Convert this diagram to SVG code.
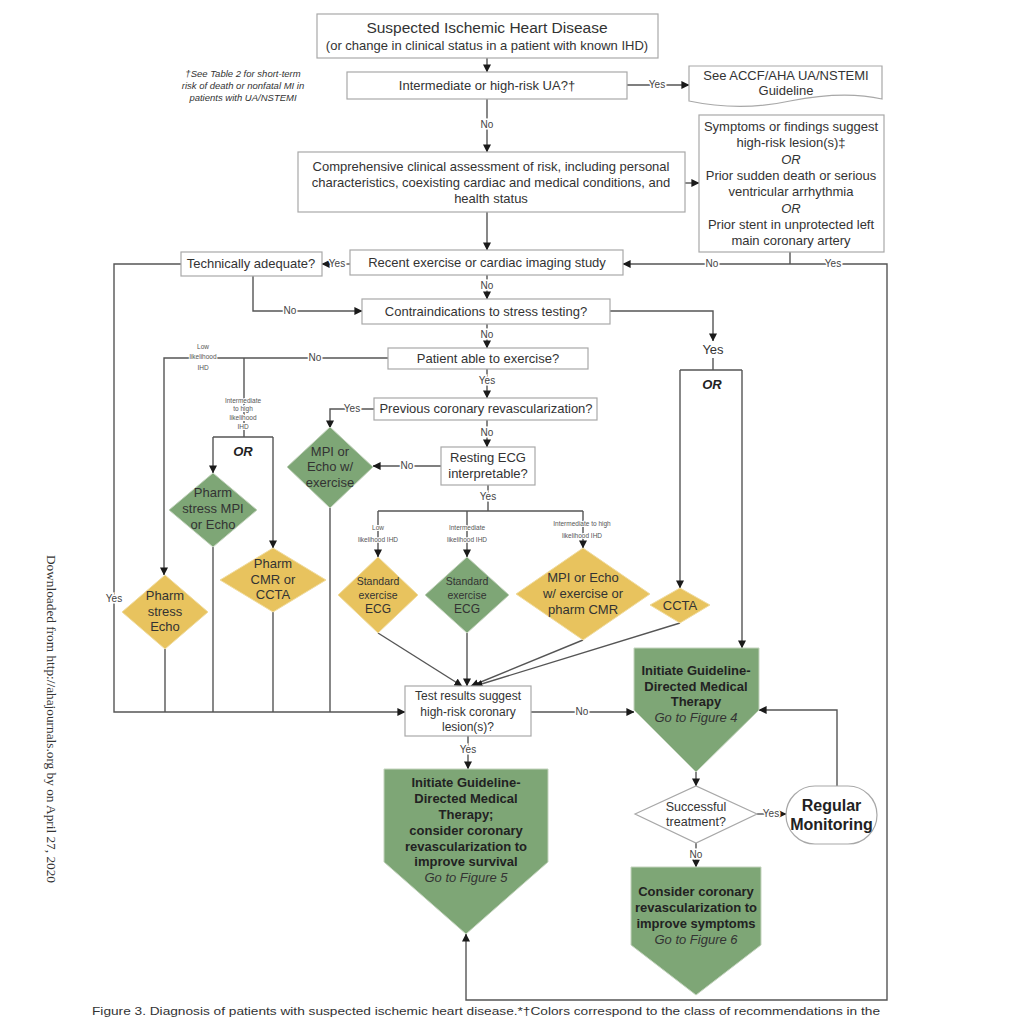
<svg xmlns="http://www.w3.org/2000/svg" width="1030" height="1018" viewBox="0 0 1030 1018">
<defs>
<marker id="arr" viewBox="0 0 10 10" refX="9.5" refY="5" markerWidth="8" markerHeight="8" markerUnits="userSpaceOnUse" orient="auto"><path d="M0,0 L10,5 L0,10 z" fill="#1a1a1a"/></marker>
<style>
.t{font-family:"Liberation Sans",Arial,sans-serif;fill:#333;text-anchor:middle;font-size:13px}
.box{fill:#fff;stroke:#a8a8a8;stroke-width:1.2}
.c{fill:none;stroke:#555;stroke-width:1.4}
.a{marker-end:url(#arr)}
.lbl{font-family:"Liberation Sans",Arial,sans-serif;fill:#444;text-anchor:middle;font-size:10px;stroke:#fff;stroke-width:3;paint-order:stroke}
.tiny{font-family:"Liberation Sans",Arial,sans-serif;fill:#555;text-anchor:middle;font-size:6.5px;stroke:#fff;stroke-width:2;paint-order:stroke}
.g{fill:#7ea676;stroke:#c3d3bd;stroke-width:1}
.y{fill:#e8c35e;stroke:#f0dca0;stroke-width:1}
.b{font-weight:bold;fill:#222}
.i{font-style:italic}
</style>
</defs>
<rect width="1030" height="1018" fill="#fff"/>

<g id="connectors">
<path class="c a" d="M487,58 V72"/>
<path class="c a" d="M627,85 H689"/>
<text class="lbl" x="657" y="88">Yes</text>
<path class="c a" d="M487,99 V152"/>
<text class="lbl" x="487" y="128">No</text>
<path class="c a" d="M685,183 H699"/>
<path class="c a" d="M487,212 V250"/>
<path class="c" d="M790,252 V264"/>
<path class="c a" d="M790,264 H623"/>
<text class="lbl" x="712" y="267">No</text>
<path class="c a" d="M790,264 H887 V1000 H466 V934"/>
<text class="lbl" x="833" y="267">Yes</text>
<path class="c a" d="M350,264 H322"/>
<text class="lbl" x="337" y="267">Yes</text>
<path class="c a" d="M181,264 H114 V712 H405"/>
<text class="lbl" x="114" y="602">Yes</text>
<path class="c a" d="M253,276 V311 H362"/>
<text class="lbl" x="290" y="314">No</text>
<path class="c a" d="M487,275 V299"/>
<text class="lbl" x="487" y="289">No</text>
<path class="c a" d="M610,311 H713 V341"/>
<text class="t" x="713" y="354">Yes</text>
<path class="c" d="M713,358 V370"/>
<path class="c" d="M680,370 H742"/>
<path class="c a" d="M680,370 V588"/>
<path class="c a" d="M742,370 V648"/>
<text class="t b i" x="712" y="389">OR</text>
<path class="c a" d="M487,324 V348"/>
<text class="lbl" x="487" y="338">No</text>
<path class="c a" d="M388,358 H164 V575"/>
<text class="lbl" x="315" y="361">No</text>
<text class="tiny" x="203" y="349">Low</text>
<text class="tiny" x="203" y="359">likelihood</text>
<text class="tiny" x="203" y="370">IHD</text>
<path class="c" d="M244,358 V437"/>
<text class="tiny" x="243" y="403">Intermediate</text>
<text class="tiny" x="243" y="411">to high</text>
<text class="tiny" x="243" y="420">likelihood</text>
<text class="tiny" x="243" y="429">IHD</text>
<path class="c" d="M213,437 H273"/>
<path class="c a" d="M213,437 V473"/>
<path class="c a" d="M273,437 V548"/>
<text class="t b i" x="243" y="456">OR</text>
<path class="c a" d="M487,369 V398"/>
<text class="lbl" x="487" y="384">Yes</text>
<path class="c a" d="M374,409 H330 V428"/>
<text class="lbl" x="352" y="412">Yes</text>
<path class="c a" d="M487,420 V447"/>
<text class="lbl" x="487" y="436">No</text>
<path class="c a" d="M441,466 H373"/>
<text class="lbl" x="407" y="469">No</text>
<path class="c" d="M488,485 V511"/>
<text class="lbl" x="488" y="500">Yes</text>
<path class="c" d="M378,511 H583"/>
<path class="c a" d="M378,511 V557"/>
<path class="c a" d="M467,511 V557"/>
<path class="c a" d="M583,511 V548"/>
<text class="tiny" x="378" y="530">Low</text>
<text class="tiny" x="378" y="542">likelihood IHD</text>
<text class="tiny" x="467" y="530">Intermediate</text>
<text class="tiny" x="467" y="542">likelihood IHD</text>
<text class="tiny" x="582" y="526">Intermediate to high</text>
<text class="tiny" x="582" y="538">likelihood IHD</text>
<path class="c a" d="M378,633 L462,686"/>
<path class="c a" d="M467,633 V686"/>
<path class="c a" d="M583,640 L471,686"/>
<path class="c a" d="M680,623 L475,686"/>
<path class="c" d="M165,649 V712"/>
<path class="c" d="M213,547 V712"/>
<path class="c" d="M273,612 V712"/>
<path class="c" d="M330,508 V712"/>
<path class="c a" d="M531,712 H634"/>
<text class="lbl" x="582" y="715">No</text>
<path class="c a" d="M468,736 V769"/>
<text class="lbl" x="468" y="753">Yes</text>
<path class="c a" d="M696,772 V786"/>
<path class="c a" d="M757,814 H786"/>
<text class="lbl" x="771" y="817">Yes</text>
<path class="c a" d="M696,843 V867"/>
<text class="lbl" x="696" y="858">No</text>
<path class="c a" d="M837,786 V710 H759"/>
</g>

<g id="n-start">
<rect class="box" x="317" y="14" width="341" height="44"/>
<text class="t" x="487" y="33" style="font-size:15.5px">Suspected Ischemic Heart Disease</text>
<text class="t" x="487" y="50">(or change in clinical status in a patient with known IHD)</text>
</g>
<g id="n-ua">
<rect class="box" x="347" y="72" width="280" height="27"/>
<text class="t" x="487" y="90">Intermediate or high-risk UA?†</text>
</g>
<g id="n-note">
<text class="t i" x="243" y="77" style="font-size:9.5px">†See Table 2 for short-term</text>
<text class="t i" x="243" y="89" style="font-size:9.5px">risk of death or nonfatal MI in</text>
<text class="t i" x="243" y="101" style="font-size:9.5px">patients with UA/NSTEMI</text>
</g>
<g id="n-accf">
<path class="box" d="M689,66 H882 V99 C852,92 820,95 790,101 C758,108 722,108 689,101 Z"/>
<text class="t" x="786" y="80">See ACCF/AHA UA/NSTEMI</text>
<text class="t" x="786" y="95">Guideline</text>
</g>
<g id="n-assess">
<rect class="box" x="298" y="152" width="387" height="60"/>
<text class="t" x="491" y="171">Comprehensive clinical assessment of risk, including personal</text>
<text class="t" x="491" y="187">characteristics, coexisting cardiac and medical conditions, and</text>
<text class="t" x="491" y="203">health status</text>
</g>
<g id="n-highrisk">
<rect class="box" x="699" y="115" width="185" height="137"/>
<text class="t" x="791" y="131">Symptoms or findings suggest</text>
<text class="t" x="791" y="147">high-risk lesion(s)‡</text>
<text class="t i" x="791" y="164">OR</text>
<text class="t" x="791" y="180">Prior sudden death or serious</text>
<text class="t" x="791" y="196">ventricular arrhythmia</text>
<text class="t i" x="791" y="213">OR</text>
<text class="t" x="791" y="229">Prior stent in unprotected left</text>
<text class="t" x="791" y="245">main coronary artery</text>
</g>
<g id="n-recent">
<rect class="box" x="350" y="250" width="273" height="25"/>
<text class="t" x="487" y="267">Recent exercise or cardiac imaging study</text>
</g>
<g id="n-tech">
<rect class="box" x="181" y="252" width="141" height="24"/>
<text class="t" x="251" y="268">Technically adequate?</text>
</g>
<g id="n-contra">
<rect class="box" x="362" y="299" width="248" height="25"/>
<text class="t" x="486" y="316">Contraindications to stress testing?</text>
</g>
<g id="n-able">
<rect class="box" x="388" y="348" width="200" height="21"/>
<text class="t" x="488" y="363">Patient able to exercise?</text>
</g>
<g id="n-prev">
<rect class="box" x="374" y="398" width="223" height="22"/>
<text class="t" x="486" y="413">Previous coronary revascularization?</text>
</g>
<g id="n-ecg">
<rect class="box" x="441" y="447" width="94" height="38"/>
<text class="t" x="488" y="462">Resting ECG</text>
<text class="t" x="488" y="478">interpretable?</text>
</g>
<g id="n-mpi-ex">
<path class="g" d="M287,467 L330,427 L373,467 L330,508 Z"/>
<text class="t" x="330" y="456">MPI or</text>
<text class="t" x="330" y="471">Echo w/</text>
<text class="t" x="330" y="487">exercise</text>
</g>
<g id="n-pharm-mpi">
<path class="g" d="M169,510 L213,473 L257,510 L213,547 Z"/>
<text class="t" x="213" y="497">Pharm</text>
<text class="t" x="213" y="513">stress MPI</text>
<text class="t" x="213" y="529">or Echo</text>
</g>
<g id="n-pharm-cmr">
<path class="y" d="M220,580 L273,548 L326,580 L273,612 Z"/>
<text class="t" x="273" y="568">Pharm</text>
<text class="t" x="273" y="584">CMR or</text>
<text class="t" x="273" y="599">CCTA</text>
</g>
<g id="n-pharm-echo">
<path class="y" d="M122,612 L165,575 L208,612 L165,649 Z"/>
<text class="t" x="165" y="600">Pharm</text>
<text class="t" x="165" y="616">stress</text>
<text class="t" x="165" y="631">Echo</text>
</g>
<g id="n-std-low">
<path class="y" d="M338,595 L378,557 L418,595 L378,633 Z"/>
<text class="t" x="378" y="585" style="font-size:10.5px">Standard</text>
<text class="t" x="378" y="599" style="font-size:10.5px">exercise</text>
<text class="t" x="378" y="613" style="font-size:12px">ECG</text>
</g>
<g id="n-std-int">
<path class="g" d="M425,595 L467,557 L509,595 L467,633 Z"/>
<text class="t" x="467" y="585" style="font-size:10.5px">Standard</text>
<text class="t" x="467" y="599" style="font-size:10.5px">exercise</text>
<text class="t" x="467" y="613" style="font-size:12px">ECG</text>
</g>
<g id="n-mpi-cmr">
<path class="y" d="M516,594 L583,548 L650,594 L583,640 Z"/>
<text class="t" x="583" y="582">MPI or Echo</text>
<text class="t" x="583" y="598">w/ exercise or</text>
<text class="t" x="583" y="614">pharm CMR</text>
</g>
<g id="n-ccta">
<path class="y" d="M650,605 L680,588 L710,605 L680,623 Z"/>
<text class="t" x="680" y="610">CCTA</text>
</g>
<g id="n-test">
<rect class="box" x="405" y="686" width="126" height="50"/>
<text class="t" x="468" y="700" style="font-size:12px">Test results suggest</text>
<text class="t" x="468" y="716" style="font-size:12px">high-risk coronary</text>
<text class="t" x="468" y="731" style="font-size:12px">lesion(s)?</text>
</g>
<g id="n-gdmt">
<path class="g" d="M634,648 H759 V710 L696,772 L634,710 Z"/>
<text class="t b" x="696" y="675">Initiate Guideline-</text>
<text class="t b" x="696" y="691">Directed Medical</text>
<text class="t b" x="696" y="706">Therapy</text>
<text class="t i" x="696" y="722">Go to Figure 4</text>
</g>
<g id="n-gdmt-revasc">
<path class="g" d="M384,769 H548 V862 L466,934 L384,862 Z"/>
<text class="t b" x="466" y="787">Initiate Guideline-</text>
<text class="t b" x="466" y="803">Directed Medical</text>
<text class="t b" x="466" y="819">Therapy;</text>
<text class="t b" x="466" y="835">consider coronary</text>
<text class="t b" x="466" y="851">revascularization to</text>
<text class="t b" x="466" y="866">improve survival</text>
<text class="t i" x="466" y="882">Go to Figure 5</text>
</g>
<g id="n-success">
<path class="box" d="M635,814 L696,786 L757,814 L696,843 Z"/>
<text class="t" x="696" y="811" style="font-size:12.5px">Successful</text>
<text class="t" x="696" y="826" style="font-size:12.5px">treatment?</text>
</g>
<g id="n-monitor">
<rect class="box" x="786" y="786" width="91" height="58" rx="29"/>
<text class="t b" x="831.5" y="811" style="font-size:16px">Regular</text>
<text class="t b" x="831.5" y="830" style="font-size:16px">Monitoring</text>
</g>
<g id="n-consider">
<path class="g" d="M631,867 H761 V945 L696,995 L631,945 Z"/>
<text class="t b" x="696" y="896">Consider coronary</text>
<text class="t b" x="696" y="912">revascularization to</text>
<text class="t b" x="696" y="928">improve symptoms</text>
<text class="t i" x="696" y="944">Go to Figure 6</text>
</g>
<g id="margin">
<text transform="translate(47,555) rotate(90)" font-family="'Liberation Serif','Times New Roman',serif" font-size="12.5" fill="#333" textLength="328" lengthAdjust="spacingAndGlyphs">Downloaded from http://ahajournals.org by on April 27, 2020</text>
<text x="92" y="1015" font-family="'Liberation Sans',Arial,sans-serif" font-size="11" fill="#333" textLength="788" lengthAdjust="spacingAndGlyphs">Figure 3. Diagnosis of patients with suspected ischemic heart disease.*†Colors correspond to the class of recommendations in the</text>
</g>
</svg>
